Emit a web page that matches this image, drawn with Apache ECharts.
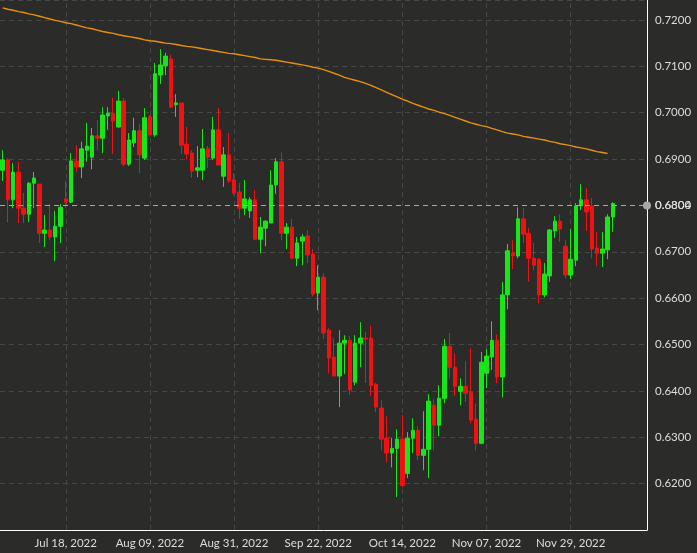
<!DOCTYPE html>
<html>
<head>
<meta charset="utf-8">
<script src="https://cdn.jsdelivr.net/npm/echarts@6/dist/echarts.min.js"></script>
<style>
  html, body { margin: 0; padding: 0; background: #2b2c2a; }
  #chart { width: 697px; height: 553px; }
</style>
</head>
<body>
<div id="chart"></div>
<script>
// trading days shown on the axis (weekdays from Jun 30, 2022), last few left empty
const firstDay = '2022-06-30';
const dayCount = 123;
const labelEvery = 16;
const labelOffset = 12;

// daily candles: [open, close, low, high]
const candles = [
  [0.6876, 0.6898, 0.6853, 0.6919], [0.6898, 0.6812, 0.6764, 0.6902], [0.6812, 0.6872, 0.6794, 0.6891],
  [0.6872, 0.6794, 0.6762, 0.6894], [0.6794, 0.6781, 0.6762, 0.6827], [0.6781, 0.6848, 0.6764, 0.6850],
  [0.6848, 0.6859, 0.6794, 0.6872], [0.6846, 0.6740, 0.6719, 0.6846], [0.6740, 0.6747, 0.6710, 0.6779],
  [0.6747, 0.6732, 0.6725, 0.6803], [0.6732, 0.6755, 0.6680, 0.6788], [0.6755, 0.6796, 0.6719, 0.6803],
  [0.6814, 0.6807, 0.6794, 0.6853], [0.6807, 0.6896, 0.6805, 0.6913], [0.6896, 0.6883, 0.6872, 0.6930],
  [0.6883, 0.6922, 0.6859, 0.6937], [0.6919, 0.6928, 0.6894, 0.6978], [0.6904, 0.6950, 0.6878, 0.6967],
  [0.6950, 0.6945, 0.6919, 0.6984], [0.6945, 0.6995, 0.6913, 0.7012], [0.6993, 0.6999, 0.6963, 0.7012],
  [0.6999, 0.6982, 0.6911, 0.7032], [0.6969, 0.7025, 0.6967, 0.7047], [0.7025, 0.6889, 0.6885, 0.7032],
  [0.6889, 0.6941, 0.6885, 0.6956], [0.6935, 0.6961, 0.6926, 0.6989], [0.6961, 0.6909, 0.6870, 0.6976],
  [0.6902, 0.6989, 0.6898, 0.7010], [0.6991, 0.6952, 0.6948, 0.6995], [0.6952, 0.7084, 0.6948, 0.7107],
  [0.7081, 0.7103, 0.7062, 0.7137], [0.7101, 0.7122, 0.7081, 0.7129], [0.7116, 0.7012, 0.7010, 0.7125],
  [0.7017, 0.7021, 0.6991, 0.7040], [0.7021, 0.6930, 0.6911, 0.7021], [0.6932, 0.6911, 0.6900, 0.6969],
  [0.6913, 0.6874, 0.6859, 0.6919], [0.6876, 0.6881, 0.6861, 0.6928], [0.6876, 0.6922, 0.6855, 0.6965],
  [0.6922, 0.6904, 0.6881, 0.6928], [0.6902, 0.6963, 0.6898, 0.6991], [0.6963, 0.6887, 0.6887, 0.7010],
  [0.6863, 0.6909, 0.6840, 0.6926], [0.6909, 0.6853, 0.6848, 0.6956], [0.6855, 0.6827, 0.6822, 0.6870],
  [0.6829, 0.6794, 0.6771, 0.6848], [0.6794, 0.6814, 0.6779, 0.6855], [0.6788, 0.6812, 0.6773, 0.6818],
  [0.6812, 0.6727, 0.6725, 0.6833], [0.6727, 0.6753, 0.6697, 0.6775], [0.6751, 0.6766, 0.6712, 0.6768],
  [0.6762, 0.6844, 0.6762, 0.6876], [0.6844, 0.6894, 0.6825, 0.6902], [0.6894, 0.6740, 0.6725, 0.6915],
  [0.6740, 0.6753, 0.6706, 0.6762], [0.6753, 0.6686, 0.6684, 0.6771], [0.6686, 0.6719, 0.6669, 0.6732],
  [0.6723, 0.6732, 0.6671, 0.6738], [0.6734, 0.6693, 0.6676, 0.6747], [0.6695, 0.6609, 0.6604, 0.6706],
  [0.6611, 0.6645, 0.6574, 0.6671], [0.6645, 0.6525, 0.6512, 0.6654], [0.6531, 0.6471, 0.6438, 0.6535],
  [0.6473, 0.6432, 0.6432, 0.6514], [0.6432, 0.6503, 0.6365, 0.6531], [0.6503, 0.6509, 0.6436, 0.6520],
  [0.6509, 0.6402, 0.6391, 0.6518], [0.6419, 0.6503, 0.6412, 0.6520], [0.6503, 0.6514, 0.6451, 0.6548],
  [0.6514, 0.6512, 0.6417, 0.6527], [0.6514, 0.6412, 0.6389, 0.6540], [0.6414, 0.6365, 0.6354, 0.6417],
  [0.6363, 0.6296, 0.6272, 0.6380], [0.6298, 0.6266, 0.6246, 0.6345], [0.6266, 0.6276, 0.6235, 0.6298],
  [0.6276, 0.6296, 0.6171, 0.6317], [0.6296, 0.6196, 0.6192, 0.6348], [0.6222, 0.6298, 0.6212, 0.6311],
  [0.6298, 0.6315, 0.6266, 0.6341], [0.6315, 0.6261, 0.6250, 0.6324], [0.6261, 0.6274, 0.6229, 0.6356],
  [0.6274, 0.6378, 0.6212, 0.6393], [0.6369, 0.6326, 0.6272, 0.6382], [0.6326, 0.6384, 0.6302, 0.6412],
  [0.6384, 0.6496, 0.6373, 0.6512], [0.6496, 0.6451, 0.6427, 0.6525], [0.6451, 0.6410, 0.6389, 0.6481],
  [0.6399, 0.6410, 0.6369, 0.6427], [0.6410, 0.6395, 0.6376, 0.6464], [0.6397, 0.6337, 0.6330, 0.6492],
  [0.6339, 0.6287, 0.6272, 0.6373], [0.6287, 0.6462, 0.6285, 0.6484], [0.6438, 0.6475, 0.6406, 0.6490],
  [0.6473, 0.6509, 0.6445, 0.6550], [0.6509, 0.6430, 0.6417, 0.6522], [0.6430, 0.6607, 0.6386, 0.6635],
  [0.6607, 0.6702, 0.6576, 0.6717], [0.6697, 0.6691, 0.6663, 0.6725], [0.6691, 0.6771, 0.6686, 0.6796],
  [0.6771, 0.6738, 0.6719, 0.6794], [0.6740, 0.6686, 0.6635, 0.6751], [0.6686, 0.6671, 0.6660, 0.6719],
  [0.6684, 0.6607, 0.6589, 0.6686], [0.6607, 0.6652, 0.6602, 0.6676], [0.6648, 0.6747, 0.6635, 0.6749],
  [0.6745, 0.6766, 0.6730, 0.6777], [0.6766, 0.6749, 0.6721, 0.6781], [0.6712, 0.6650, 0.6643, 0.6725],
  [0.6650, 0.6684, 0.6641, 0.6749], [0.6682, 0.6799, 0.6669, 0.6805], [0.6799, 0.6812, 0.6790, 0.6846],
  [0.6812, 0.6786, 0.6745, 0.6837], [0.6799, 0.6706, 0.6686, 0.6816], [0.6708, 0.6697, 0.6669, 0.6743],
  [0.6697, 0.6706, 0.6667, 0.6743], [0.6704, 0.6775, 0.6684, 0.6781], [0.6775, 0.6804, 0.6743, 0.6807]
];

// long moving average (orange line), one value per candle, none for the last day
const ma200 = [
  0.7226, 0.7223, 0.7221, 0.7218, 0.7216, 0.7213, 0.7211, 0.7208, 0.7205, 0.7202,
  0.7199, 0.7197, 0.7194, 0.7192, 0.7189, 0.7186, 0.7183, 0.7181, 0.7178, 0.7175,
  0.7173, 0.7171, 0.7168, 0.7166, 0.7164, 0.7162, 0.7160, 0.7157, 0.7155, 0.7154,
  0.7152, 0.7150, 0.7149, 0.7147, 0.7145, 0.7143, 0.7142, 0.7140, 0.7138, 0.7136,
  0.7134, 0.7132, 0.7130, 0.7128, 0.7127, 0.7125, 0.7123, 0.7121, 0.7119, 0.7116,
  0.7115, 0.7114, 0.7113, 0.7111, 0.7109, 0.7107, 0.7105, 0.7103, 0.7101, 0.7098,
  0.7096, 0.7093, 0.7089, 0.7085, 0.7081, 0.7076, 0.7073, 0.7070, 0.7067, 0.7063,
  0.7059, 0.7054, 0.7049, 0.7044, 0.7039, 0.7034, 0.7029, 0.7025, 0.7020, 0.7016,
  0.7012, 0.7008, 0.7005, 0.7001, 0.6998, 0.6994, 0.6990, 0.6986, 0.6982, 0.6978,
  0.6975, 0.6972, 0.6970, 0.6966, 0.6963, 0.6959, 0.6956, 0.6954, 0.6952, 0.6949,
  0.6947, 0.6945, 0.6943, 0.6941, 0.6938, 0.6936, 0.6933, 0.6931, 0.6929, 0.6926,
  0.6924, 0.6922, 0.6919, 0.6916, 0.6914, 0.6912, '-'
];

const lastPrice = 0.6804;

const months = ['Jan', 'Feb', 'Mar', 'Apr', 'May', 'Jun', 'Jul', 'Aug', 'Sep', 'Oct', 'Nov', 'Dec'];

function tradingDays(start, n) {
  const out = [];
  const d = new Date(start + 'T12:00:00Z');
  while (out.length < n) {
    const wd = d.getUTCDay();
    if (wd !== 0 && wd !== 6) {
      const dd = String(d.getUTCDate()).padStart(2, '0');
      out.push(months[d.getUTCMonth()] + ' ' + dd + ', ' + d.getUTCFullYear());
    }
    d.setUTCDate(d.getUTCDate() + 1);
  }
  return out;
}

const days = tradingDays(firstDay, dayCount);
const showIdx = (idx) => idx % labelEvery === labelOffset;
// vertical grid lines sit on the labelled days
const tickDays = days.filter((d, i) => showIdx(i));

const gridColor = '#474846';
const gridDash = [5, 4];
const axisFont = 11.5;

const chart = echarts.init(document.getElementById('chart'));

const option = {
  animation: false,
  backgroundColor: '#2b2c2a',
  textStyle: { fontFamily: 'Lato, "Noto Sans", sans-serif' },
  grid: { left: 0, right: 50, top: 0, bottom: 23 },
  xAxis: {
    type: 'category',
    data: days,
    boundaryGap: true,
    axisLine: { lineStyle: { color: '#ffffff', width: 1 } },
    axisTick: { interval: showIdx, alignWithLabel: true, length: 4, lineStyle: { color: '#ffffff' } },
    axisLabel: { interval: showIdx, color: '#dddddd', fontSize: axisFont, margin: 7 },
    splitLine: { show: false }
  },
  yAxis: {
    type: 'value',
    position: 'right',
    min: 0.61,
    max: 0.7243,
    interval: 0.01,
    axisLine: { show: true, lineStyle: { color: '#ffffff', width: 1 } },
    axisTick: { show: false },
    axisLabel: {
      color: '#dddddd',
      fontSize: axisFont,
      margin: 8,
      showMinLabel: false,
      showMaxLabel: false,
      formatter: (v) => v.toFixed(4)
    },
    splitLine: { lineStyle: { color: gridColor, type: gridDash, width: 1 } }
  },
  series: [
    {
      name: 'price',
      type: 'candlestick',
      data: candles,
      barWidth: 4,
      itemStyle: {
        color: '#19e619',
        color0: '#f01212',
        borderColor: '#19e619',
        borderColor0: '#f01212',
        borderWidth: 1
      },
      markLine: {
        silent: true,
        symbol: ['none', 'circle'],
        symbolSize: 8,
        lineStyle: { color: '#a8a8a8', type: gridDash, width: 1 },
        label: {
          position: 'end',
          distance: 8,
          color: '#dddddd',
          fontSize: axisFont,
          formatter: () => lastPrice.toFixed(4)
        },
        data: [{ yAxis: lastPrice }]
      }
    },
    {
      name: 'ma',
      type: 'line',
      z: 3,
      data: ma200,
      showSymbol: false,
      smooth: false,
      lineStyle: { color: '#e8900e', width: 1.4 },
      itemStyle: { color: '#e8900e' },
      markLine: {
        silent: true,
        z: 1,
        symbol: ['none', 'none'],
        label: { show: false },
        lineStyle: { color: gridColor, type: gridDash, width: 1 },
        data: tickDays.map((d) => ({ xAxis: d }))
      }
    }
  ]
};

chart.setOption(option);
</script>
</body>
</html>
